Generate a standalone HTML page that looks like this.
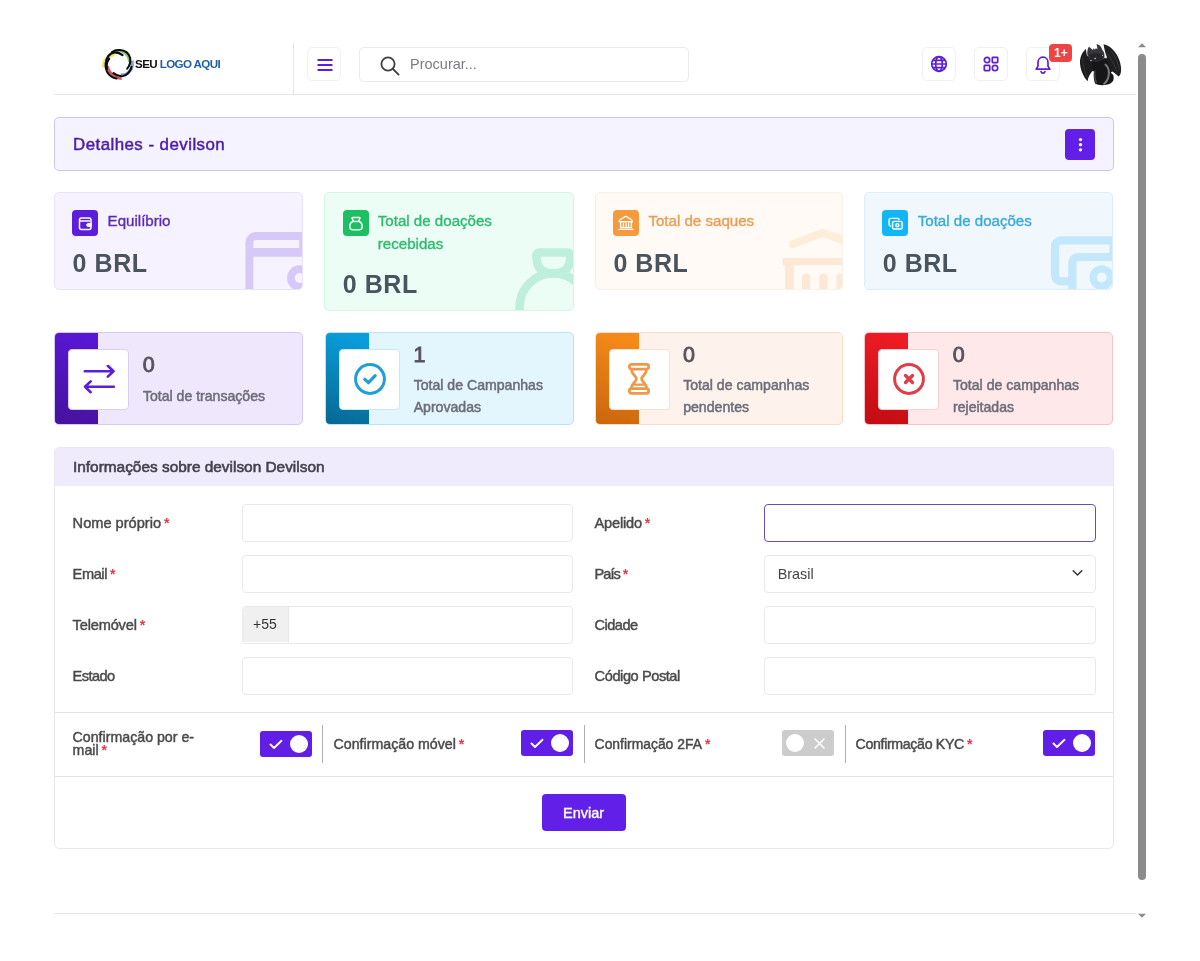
<!DOCTYPE html>
<html lang="pt">
<head>
<meta charset="utf-8">
<title>Detalhes - devilson</title>
<style>
*{box-sizing:border-box;margin:0;padding:0}
html,body{width:1200px;height:961px;background:#fff;overflow:hidden}
body{font-family:"Liberation Sans",sans-serif;color:#444;position:relative}
.abs{position:absolute}
.t{position:absolute;white-space:nowrap;line-height:1}
/* header */
#hline{left:54px;top:94px;width:1082px;height:1px;background:#e6e6e9}
#vline{left:293px;top:43px;width:1px;height:51px;background:#e6e6e9}
.hbtn{position:absolute;width:34px;height:34px;top:47.200px;border:1px solid #efeff4;border-radius:5px;background:#fff}
#search{left:359px;top:47px;width:330px;height:35px;border:1px solid #ebebef;border-radius:5px;background:#fff}
/* title */
#titlebar{left:54px;top:117px;width:1059.500px;height:54px;background:#f5f3ff;border:1px solid #cbc7e3;border-radius:5px}
#dots{left:1065px;top:129px;width:30px;height:30.500px;background:#621fe7;border-radius:4px}
/* widgets row1 */
.w1{position:absolute;top:192px;width:249px;height:98px;border-radius:5px;border:1px solid;overflow:hidden}
.w1 .ib{position:absolute;left:17.200px;top:17px;width:26px;height:26px;border-radius:4px}
.w1 .lb{position:absolute;left:52.400px;top:17.100px;font-size:15.100px;line-height:22.500px;-webkit-text-stroke:.35px currentColor;white-space:nowrap}
.w1 .val{position:absolute;left:17.400px;font-size:25px;font-weight:bold;letter-spacing:.55px;color:#4a545f;line-height:1;white-space:nowrap}
/* widgets row2 */
.w2{position:absolute;top:332px;width:249px;height:93.200px;border-radius:5px;border:1px solid;overflow:hidden}
.w2 .band{position:absolute;left:-1px;top:-1px;width:44.200px;height:94px}
.w2 .box{position:absolute;left:13px;top:16px;width:61px;height:61px;background:#fff;border:1px solid;border-radius:4px}
.w2 .num{position:absolute;left:87.500px;font-size:21.500px;-webkit-text-stroke:.9px currentColor;color:#57535e;line-height:1}
.w2 .lb{position:absolute;left:87.700px;font-size:14.100px;line-height:22px;-webkit-text-stroke:.5px currentColor;color:#6d6d79;white-space:nowrap}
/* form */
#fcard{left:54px;top:446.700px;width:1060px;height:402.500px;border:1px solid #e8e8ec;border-radius:5px;background:#fff;overflow:hidden}
#fhead{left:0;top:0;width:1060px;height:38.200px;background:#f0ebfc}
.inp{position:absolute;height:37.300px;margin-top:-.7px;border:1px solid #e9e9ed;border-radius:4px;background:#fff}
.lab{position:absolute;font-size:14.600px;-webkit-text-stroke:.45px currentColor;color:#4a4a4a;white-space:nowrap;line-height:14px}
.lab i{color:#e5394b;font-style:normal;font-weight:bold;letter-spacing:0;font-size:14px;margin-left:3px;-webkit-text-stroke:0}
.hr{position:absolute;left:55px;width:1058px;height:1px;background:#e4e4e8}
.tog{position:absolute;top:730px;width:52px;height:26px;border-radius:3px;background:#611ee6}
.tog .k{position:absolute;top:4px;width:18px;height:18px;border-radius:50%;background:#fff}
.vs{position:absolute;top:725px;width:1px;height:38px;background:#b0b0b0}
</style>
</head>
<body>

<!-- HEADER -->
<div class="abs" id="hline"></div>
<div class="abs" id="vline"></div>

<svg class="abs" style="left:98px;top:44px" width="42" height="40" viewBox="0 0 1009 961">
  <g fill="none">
    <path d="M135 560C125 410 225 280 410 240" stroke="#ebe560" stroke-width="84" opacity=".9"/>
    <path d="M400 168C520 135 665 188 725 300C748 345 758 395 752 440" stroke="#7fba66" stroke-width="70" opacity=".9"/>
    <path d="M822 400C842 520 795 640 700 708C650 738 600 748 540 738" stroke="#6f90c6" stroke-width="72" opacity=".85"/>
    <path d="M228 530C248 640 318 735 420 785C470 810 520 830 570 832" stroke="#d8404e" stroke-width="66" opacity=".9"/>
    <g stroke="#0c0c0c" stroke-width="50" stroke-linecap="round">
      <path d="M590 268C540 228 480 200 400 202C280 212 190 330 182 480C177 600 222 715 325 782C360 806 400 822 445 830"/>
      <path d="M702 592C760 520 790 420 770 330C740 220 640 150 520 144C440 142 380 160 335 192"/>
      <path d="M372 700C430 750 520 782 600 770C700 750 790 650 806 545"/>
      <path d="M268 352C222 420 200 520 215 600"/>
    </g>
  </g>
</svg>
<div class="t" id="logotxt" style="left:135px;top:58px;font-size:11.6px;font-weight:bold;letter-spacing:-.6px;color:#111"><span>SEU</span> <span style="color:#1f5ea8">LOGO AQUI</span></div>

<div class="hbtn" style="left:307.100px">
  <svg class="abs" style="left:8.500px;top:9.800px" width="16" height="14" viewBox="0 0 16 14"><g stroke="#5b1fdb" stroke-width="1.8" stroke-linecap="round"><path d="M1.2 2H14.8M1.2 7H14.8M1.2 12H14.8"/></g></svg>
</div>

<div class="abs" id="search">
  <svg class="abs" style="left:19px;top:6.600px" width="22" height="22" viewBox="0 0 22 22"><g fill="none" stroke="#3f3f46" stroke-width="1.8" stroke-linecap="round"><circle cx="9" cy="9" r="6.6"/><path d="M14 14L19.6 19.6"/></g></svg>
  <div class="t" id="proc" style="left:50px;top:9px;font-size:14.5px;color:#7b7b85">Procurar...</div>
</div>

<div class="hbtn" style="left:922.100px">
  <svg class="abs" style="left:5.600px;top:6.100px" width="20" height="20" viewBox="0 0 20 20"><g fill="none" stroke="#5b1fdb" stroke-width="1.7"><circle cx="10" cy="10" r="7.3"/><ellipse cx="10" cy="10" rx="3.3" ry="7.3"/><path d="M2.700 10H17.300M3.600 6.300H16.400M3.600 13.700H16.400"/></g></svg>
</div>
<div class="hbtn" style="left:974.100px">
  <svg class="abs" style="left:7.300px;top:7.100px" width="18" height="18" viewBox="0 0 18 18"><g fill="none" stroke="#5b1fdb" stroke-width="1.7"><circle cx="5" cy="5" r="2.7"/><rect x="10.3" y="2.3" width="5.4" height="5.4" rx=".6"/><rect x="2.3" y="10.3" width="5.4" height="5.4" rx=".6"/><circle cx="13" cy="13" r="2.7"/></g></svg>
</div>
<div class="hbtn" style="left:1026.100px">
  <svg class="abs" style="left:7.300px;top:6.800px" width="18" height="20" viewBox="0 0 18 20"><g fill="none" stroke="#5b1fdb" stroke-width="1.7" stroke-linejoin="round" stroke-linecap="round"><path d="M9 2.2c-3 0-5 2.300-5 5.300v3.600l-1.800 3.100h13.600l-1.800-3.100v-3.600c0-3-2-5.300-5-5.300z"/><path d="M7 16.600c.3 1 1 1.600 2 1.600s1.700-.6 2-1.600"/></g></svg>
</div>
<div class="abs" style="left:1049.300px;top:44px;width:22.500px;height:17.600px;background:#ef4444;border-radius:4px"></div>
<div class="t" id="badge" style="left:1054px;top:46.800px;font-size:12px;font-weight:bold;color:#fff">1+</div>

<!-- avatar -->
<svg class="abs" style="left:1070px;top:36px" width="60" height="56" viewBox="0 0 1030 961">
  <path d="M275 225C215 270 165 360 172 470C180 590 235 700 300 775C315 700 350 640 400 585C350 520 320 450 300 370C285 310 275 265 275 225z" fill="#1d1d1f"/>
  <path d="M575 140C660 150 760 230 820 350C870 450 890 560 870 640C860 670 845 690 830 695C800 660 760 630 715 600C700 520 670 440 640 380C615 320 590 230 575 140z" fill="#1f1f21"/>
  <path d="M640 300C700 380 760 480 800 600M700 250C770 340 820 450 850 580" fill="none" stroke="#3c3c40" stroke-width="14"/>
  <path d="M215 380C220 500 260 620 300 720" fill="none" stroke="#38383c" stroke-width="14"/>
  <path d="M285 345L430 395L430 605L385 595C345 530 310 450 285 345z M575 380L650 380C685 450 710 520 725 608L680 625L630 500z" fill="#1b1b1d" stroke="#1b1b1d" stroke-width="10" stroke-linejoin="round"/>
  <path d="M395 400C380 470 385 540 410 600C400 680 410 760 430 815C480 845 560 850 620 835C680 830 730 800 745 760C755 720 750 680 735 660C700 640 690 600 690 560C670 480 640 430 590 395z" fill="#161618"/>
  <path d="M300 330C290 280 300 220 325 180C345 200 370 225 395 240L405 210L430 235L445 205L470 230C470 190 460 160 455 140C500 140 540 180 555 240C585 270 600 320 590 370C570 410 520 435 450 440C380 440 320 400 300 330z" fill="#37373b"/>
  <path d="M330 330C360 300 420 290 470 300C520 300 560 310 585 330C580 380 540 420 470 430C400 435 345 400 330 330z" fill="#26262a"/>
  <path d="M410 390l35-20l-5 30z M335 420l40-8l-10 25z M545 330l25-8l-5 25z" fill="#d8d8d8"/>
  <path d="M610 490C660 540 680 620 660 700C645 760 615 800 585 820" fill="none" stroke="#77777b" stroke-width="34" stroke-linecap="round"/>
  <path d="M425 600C420 680 430 750 455 800" fill="none" stroke="#4a4a4e" stroke-width="22" stroke-linecap="round"/>
</svg>

<!-- scrollbar -->
<svg class="abs" style="left:1136px;top:40px" width="12" height="882" viewBox="0 0 12 882">
  <path d="M2 7.200L6 3.200L10 7.200z" fill="#8b8b8b"/>
  <rect x="2" y="14" width="8" height="826" rx="4" fill="#8b8b8b"/>
  <path d="M2 873.700L10 873.700L6 877.700z" fill="#8b8b8b"/>
</svg>
<div class="abs" style="left:54px;top:913px;width:1082px;height:1px;background:#e6e6e9"></div>

<!-- TITLE -->
<div class="abs" id="titlebar"></div>
<div class="t" id="ttl" style="left:73px;top:136.500px;font-size:16.9px;letter-spacing:.45px;-webkit-text-stroke:.5px currentColor;color:#4a1fa8">Detalhes - devilson</div>
<div class="abs" id="dots">
  <svg class="abs" style="left:12.500px;top:8px" width="5" height="15" viewBox="0 0 5 15"><g fill="#fff"><circle cx="2.500" cy="2.600" r="1.650"/><circle cx="2.500" cy="7.700" r="1.650"/><circle cx="2.500" cy="12.800" r="1.650"/></g></svg>
</div>

<!-- ROW 1 -->
<div class="w1" style="left:54.200px;background:#f6f2ff;border-color:#e9e2fa">
  <svg class="abs" style="left:0;top:0" width="248" height="96" viewBox="55 193 248 96"><g fill="none" stroke="#d6c9f8"><path d="M249.400 292V242.500a6.500 6.500 0 0 1 6.500-6.500H310" stroke-width="7.800"/><path d="M249 252.400H310" stroke-width="8.600"/><path d="M301.500 236V252" stroke-width="4.500"/><circle cx="299.700" cy="278" r="8.800" stroke-width="7.700"/></g></svg>
  <div class="ib" style="background:#5b1fdb">
    <svg class="abs" style="left:6px;top:6px" width="15" height="15" viewBox="0 0 15 15"><g fill="none" stroke="#fff" stroke-width="1.500" stroke-linejoin="round"><rect x="1.500" y="2" width="11.500" height="11.500" rx="2"/><path d="M1.500 5H12"/><path d="M13.200 7.500h-3a1.500 1.500 0 0 0 0 3h3z" fill="#fff" stroke-width="1"/></g></svg>
  </div>
  <div class="lb" id="l1" style="color:#5a2db3">Equilíbrio</div>
  <div class="val" style="top:57.500px">0 BRL</div>
</div>

<div class="w1" style="left:324.400px;width:249.600px;height:119px;background:#ebfdf4;border-color:#d5f5e6">
  <svg class="abs" style="left:0;top:0" width="248" height="117" viewBox="325 193 248 117"><g fill="none" stroke="#bdefdc" stroke-width="8.600" stroke-linejoin="round"><path d="M536.400 256q0-3.500 3.500-3.500h27q3.500 0 3.500 3.500c0 12-6 17.400-17 17.400s-17-5.400-17-17.400z"/><circle cx="553.300" cy="307" r="33.700"/></g></svg>
  <div class="ib" style="background:#1cc062">
    <svg class="abs" style="left:0;top:0" width="26" height="26" viewBox="0 0 26 26"><g fill="none" stroke="#fff" stroke-width="1.500" stroke-linejoin="round"><path d="M9.700 7.400h6.600c.5 0 .8.400.6.900l-.8 1.900c-.4.900-1.200 1.400-2.100 1.400h-2c-.9 0-1.700-.5-2.100-1.400l-.8-1.900c-.2-.5.100-.9.600-.9z"/><path d="M10.200 11.300C7.800 12.300 6.800 14.800 6.800 16.400c0 2 1.300 3.300 3.300 3.300h5.800c2 0 3.300-1.300 3.300-3.300 0-1.600-1-4.100-3.400-5.100"/></g></svg>
  </div>
  <div class="lb" id="l2" style="color:#2fba6f">Total de doações<br>recebidas</div>
  <div class="val" style="top:79px">0 BRL</div>
</div>

<div class="w1" style="left:595px;width:248px;background:#fffaf6;border-color:#fcefe4">
  <svg class="abs" style="left:0;top:0" width="247" height="96" viewBox="596 193 247 96"><g fill="#fde8d5"><path d="M793 244L823 232.800L853 244" fill="none" stroke="#fdeeda" stroke-width="8" stroke-linecap="round" stroke-linejoin="round"/><rect x="782.500" y="258" width="70" height="7.200"/><rect x="785" y="262" width="8.800" height="30"/><rect x="802" y="273.700" width="8.200" height="20" rx="3.500"/><rect x="819.200" y="273.700" width="8.200" height="20" rx="3.500"/><rect x="836.300" y="273.700" width="8.200" height="20" rx="3.500"/></g></svg>
  <div class="ib" style="background:#f59b3d">
    <svg class="abs" style="left:0;top:0" width="26" height="26" viewBox="0 0 26 26"><g fill="none" stroke="#fff" stroke-width="1.400" stroke-linejoin="round" stroke-linecap="round"><path d="M6.300 11.200c0-.8.300-1.300 1-1.700l4.700-2.900c.5-.3 1-.3 1.500 0l4.700 2.900c.7.400 1 .9 1 1.700v.6H6.300z"/><path d="M7.600 12v5.600h10.800V12"/><path d="M10.400 13.800v2.800M13 13.800v2.800M15.600 13.800v2.800"/><path d="M6 19.400h14"/></g></svg>
  </div>
  <div class="lb" id="l3" style="color:#ec9c52">Total de saques</div>
  <div class="val" style="top:57.500px">0 BRL</div>
</div>

<div class="w1" style="left:864.300px;background:#f0f8fe;border-color:#dbeefb">
  <svg class="abs" style="left:0;top:0" width="248" height="96" viewBox="865 193 248 96"><g fill="none" stroke="#c3e7fb" stroke-width="8.200"><path d="M1113.500 257V240.400H1061a6 6 0 0 0-6 6V275.400a6 6 0 0 0 6 6H1072"/><path d="M1072.300 295V263a6 6 0 0 1 6-6H1120"/><circle cx="1101.700" cy="277.500" r="8.650" stroke-width="7.300"/></g></svg>
  <div class="ib" style="background:#12b5f6">
    <svg class="abs" style="left:5.300px;top:6.900px" width="15.500" height="13.700" viewBox="0 0 17 15"><g fill="none" stroke="#fff" stroke-width="1.600" stroke-linejoin="round"><path d="M3.500 10H3c-1 0-1.800-.8-1.800-1.800V3.300c0-1 .8-1.800 1.800-1.800h7.500c1 0 1.800.8 1.800 1.800"/><rect x="5" y="4.800" width="10.500" height="8.400" rx="1.800"/><circle cx="10.300" cy="9" r="1.700"/></g></svg>
  </div>
  <div class="lb" id="l4" style="color:#3ba9d9">Total de doações</div>
  <div class="val" style="top:57.500px">0 BRL</div>
</div>

<!-- ROW 2 -->
<div class="w2" style="left:54.200px;background:#efe8fd;border-color:#d6c8f6">
  <div class="band" style="background:linear-gradient(200deg,#5817d3 10%,#45129b 100%)"></div>
  <div class="box" style="border-color:#d9cdf5">
    <svg class="abs" style="left:14px;top:15px" width="34" height="30" viewBox="0 0 34 30"><g fill="none" stroke="#5b1fdb" stroke-width="2.600" stroke-linecap="round" stroke-linejoin="round"><path d="M1.800 6.200H30.500M24.800 0.800L30.500 6.200L24.800 11.600"/><path d="M30.800 21.800H2M7.700 16.400L2 21.800L7.700 27.200"/></g></svg>
  </div>
  <div class="num" style="top:22.300px">0</div>
  <div class="lb" id="m1" style="top:52px">Total de transações</div>
</div>

<div class="w2" style="left:325px;background:#e3f5fd;border-color:#b8e2f7">
  <div class="band" style="background:linear-gradient(200deg,#0a9ddb 10%,#076690 100%)"></div>
  <div class="box" style="border-color:#c6e8f8">
    <svg class="abs" style="left:12.800px;top:12.200px" width="34" height="34" viewBox="0 0 34 34"><g fill="none" stroke="#1f9fda" stroke-linecap="round" stroke-linejoin="round"><circle cx="17" cy="17" r="14.400" stroke-width="3"/><path d="M11.800 17.300L15.400 20.700L22.200 13.700" stroke-width="3.200"/></g></svg>
  </div>
  <div class="num" style="top:12px">1</div>
  <div class="lb" id="m2" style="top:41px">Total de Campanhas<br>Aprovadas</div>
</div>

<div class="w2" style="left:594.500px;width:248.800px;background:#fef3ec;border-color:#fbdcc6">
  <div class="band" style="background:linear-gradient(200deg,#f58a1b 10%,#c9650a 100%)"></div>
  <div class="box" style="border-color:#fbe0cc">
    <svg class="abs" style="left:18px;top:12.900px" width="22" height="32" viewBox="0 0 22 32"><g fill="none" stroke="#f0974a" stroke-width="2.800" stroke-linejoin="round" stroke-linecap="round"><rect x="1.400" y="1.400" width="19.200" height="4.700" rx="2"/><rect x="1.400" y="25.600" width="19.200" height="4.700" rx="2"/><path d="M3.400 6.300C3.400 12 8.400 12.600 8.400 15.850C8.400 19.100 3.400 19.700 3.400 25.400M18.600 6.300C18.600 12 13.600 12.600 13.600 15.850C13.600 19.100 18.600 19.700 18.600 25.400"/><path d="M5.500 21.600H16.500" stroke-width="2.400"/></g></svg>
  </div>
  <div class="num" style="top:12px">0</div>
  <div class="lb" id="m3" style="top:41px">Total de campanhas<br>pendentes</div>
</div>

<div class="w2" style="left:864.300px;background:#ffe8ea;border-color:#f9c1c5">
  <div class="band" style="background:linear-gradient(200deg,#ee1c24 10%,#c00b12 100%)"></div>
  <div class="box" style="border-color:#f9cfd2">
    <svg class="abs" style="left:12.600px;top:12.200px" width="34" height="34" viewBox="0 0 34 34"><g fill="none" stroke="#de3d49" stroke-linecap="round"><circle cx="17" cy="17" r="14.400" stroke-width="3"/><path d="M13.500 13.500L20.500 20.500M20.500 13.500L13.500 20.500" stroke-width="3.300"/></g></svg>
  </div>
  <div class="num" style="top:12px">0</div>
  <div class="lb" id="m4" style="top:41px">Total de campanhas<br>rejeitadas</div>
</div>

<!-- FORM -->
<div class="abs" id="fcard"><div class="abs" id="fhead"></div></div>
<div class="t" id="fttl" style="left:73px;top:459px;font-size:15.4px;-webkit-text-stroke:.6px currentColor;color:#45424c">Informações sobre devilson Devilson</div>

<div class="lab" id="f1" style="left:72.600px;top:516px">Nome próprio<i>*</i></div>
<div class="lab" id="f2" style="letter-spacing:-0.42px;left:72.600px;top:567px">Email<i>*</i></div>
<div class="lab" id="f3" style="letter-spacing:-0.17px;left:72.600px;top:618px">Telemóvel<i>*</i></div>
<div class="lab" id="f4" style="letter-spacing:-0.57px;left:72.600px;top:669px">Estado</div>
<div class="inp" style="left:242px;top:505px;width:331px"></div>
<div class="inp" style="left:242px;top:556px;width:331px"></div>
<div class="inp" style="left:242px;top:607px;width:331px;overflow:hidden"><div class="abs" style="left:0;top:0;width:46px;height:35px;background:#f0f0f1;border-right:1px solid #e6e6ea"></div><div class="t" id="p55" style="left:10px;top:10px;font-size:14px;color:#333">+55</div></div>
<div class="inp" style="left:242px;top:658px;width:331px"></div>

<div class="lab" id="g1" style="letter-spacing:-0.21px;left:594.600px;top:516px">Apelido<i>*</i></div>
<div class="lab" id="g2" style="letter-spacing:-1.00px;left:594.600px;top:567px">País<i>*</i></div>
<div class="lab" id="g3" style="letter-spacing:-0.55px;left:594.600px;top:618px">Cidade</div>
<div class="lab" id="g4" style="letter-spacing:-0.43px;left:594.600px;top:669px">Código Postal</div>
<div class="inp" style="left:764px;top:505px;width:332px;border-color:#6b4ac0"></div>
<div class="inp" style="left:764px;top:556px;width:332px">
  <div class="t" id="br" style="left:12.700px;top:11px;font-size:14.4px;color:#444">Brasil</div>
  <svg class="abs" style="left:307px;top:13px" width="11" height="8" viewBox="0 0 11 8"><path d="M1.200 1.800L5.500 6L9.800 1.800" fill="none" stroke="#333" stroke-width="1.500" stroke-linecap="round" stroke-linejoin="round"/></svg>
</div>
<div class="inp" style="left:764px;top:607px;width:332px"></div>
<div class="inp" style="left:764px;top:658px;width:332px"></div>

<div class="hr" style="top:712px"></div>
<div class="hr" style="top:776px"></div>

<div class="lab" id="c1" style="font-size:14.200px;line-height:13.400px;left:72.600px;top:731px">Confirmação por e-<br>mail<i>*</i></div>
<div class="lab" id="c2" style="font-size:14.200px;left:333.600px;top:737px">Confirmação móvel<i>*</i></div>
<div class="lab" id="c3" style="font-size:13.900px;left:594.600px;top:737px">Confirmação 2FA<i>*</i></div>
<div class="lab" id="c4" style="letter-spacing:-.35px;font-size:14.200px;left:855.600px;top:737px">Confirmação KYC<i>*</i></div>

<div class="tog" style="left:260px;top:730.700px"><svg class="abs" style="left:9px;top:8px" width="14" height="11" viewBox="0 0 14 11"><path d="M1.500 5.500L5 9L12.500 1.800" fill="none" stroke="#fff" stroke-width="1.900" stroke-linecap="round" stroke-linejoin="round"/></svg><div class="k" style="left:30px"></div></div>
<div class="tog" style="left:521px"><svg class="abs" style="left:9px;top:8px" width="14" height="11" viewBox="0 0 14 11"><path d="M1.500 5.500L5 9L12.500 1.800" fill="none" stroke="#fff" stroke-width="1.900" stroke-linecap="round" stroke-linejoin="round"/></svg><div class="k" style="left:30px"></div></div>
<div class="tog" style="left:782px;background:#cccccc"><div class="k" style="left:4px"></div><svg class="abs" style="left:32px;top:8px" width="11" height="11" viewBox="0 0 11 11"><path d="M1 1L10 10M10 1L1 10" fill="none" stroke="#fff" stroke-width="1.500" stroke-linecap="round"/></svg></div>
<div class="tog" style="left:1043px"><svg class="abs" style="left:9px;top:8px" width="14" height="11" viewBox="0 0 14 11"><path d="M1.500 5.500L5 9L12.500 1.800" fill="none" stroke="#fff" stroke-width="1.900" stroke-linecap="round" stroke-linejoin="round"/></svg><div class="k" style="left:30px"></div></div>

<div class="vs" style="left:322px"></div>
<div class="vs" style="left:584px"></div>
<div class="vs" style="left:845px"></div>

<div class="abs" style="left:542px;top:794.200px;width:84px;height:36.700px;background:#621fe7;border-radius:4px"></div>
<div class="t" id="env" style="left:563px;top:805.600px;font-size:14.500px;-webkit-text-stroke:.4px currentColor;color:#fff">Enviar</div>

</body>
</html>
